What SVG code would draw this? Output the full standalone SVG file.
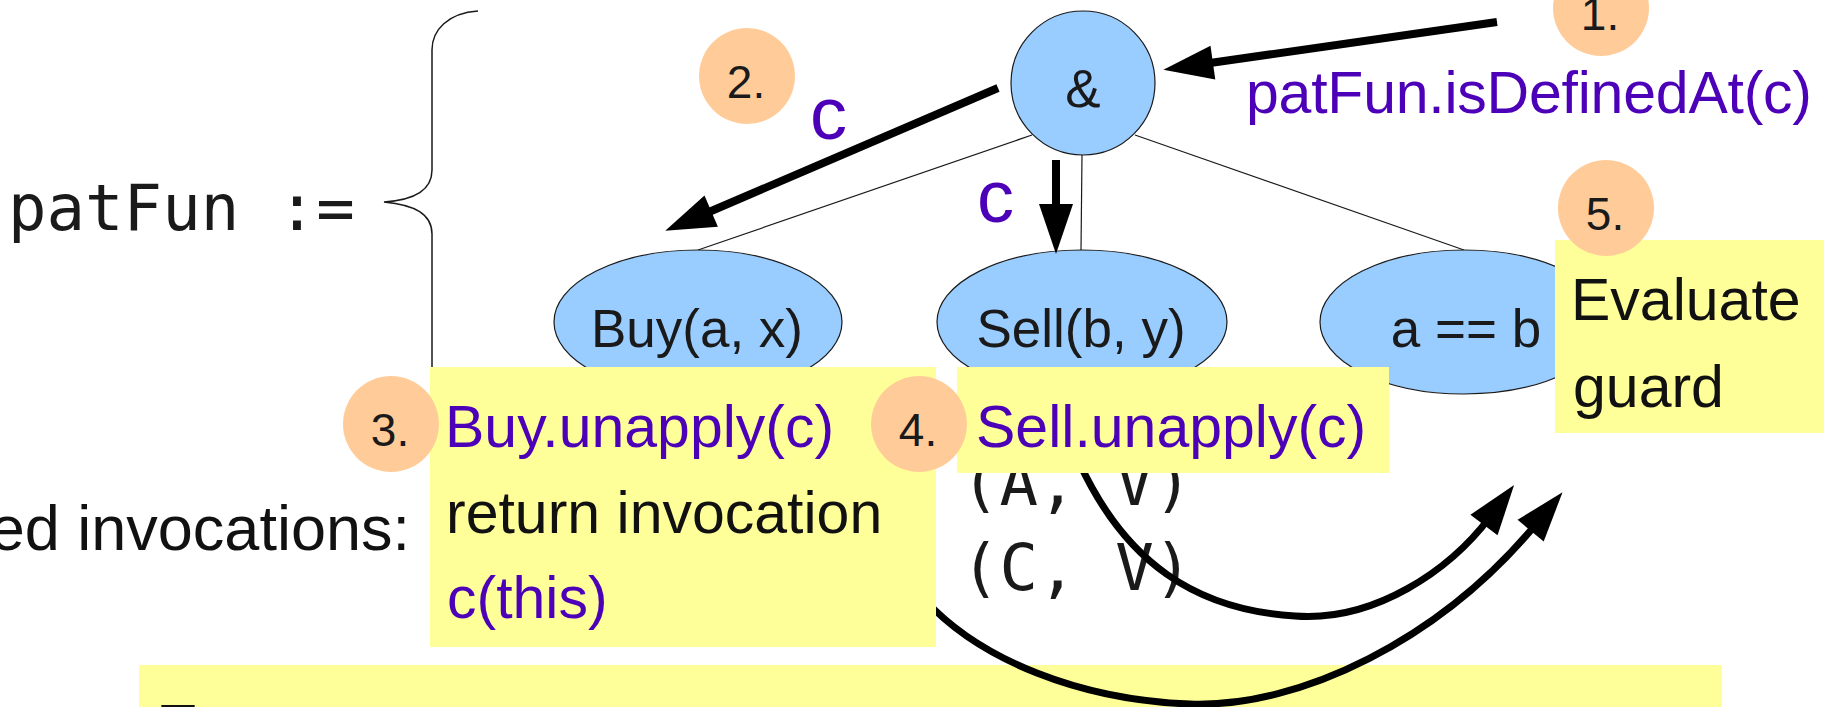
<svg xmlns="http://www.w3.org/2000/svg" width="1824" height="707" viewBox="0 0 1824 707">
<defs>
<marker id="ah" markerUnits="userSpaceOnUse" markerWidth="50" markerHeight="34" refX="10" refY="17" orient="auto" overflow="visible">
<path d="M0,0 L50,17 L0,34 z" fill="#000"/>
</marker>
</defs>
<style>
.node{fill:#99ccff;stroke:#1a1a1a;stroke-width:1.2}
.badge{fill:#ffcc99;stroke:none}
.note{fill:#ffff99;stroke:none}
.lbl{font-family:"Liberation Sans",Arial,sans-serif;font-size:53px;fill:#1a1a1a}
.num{font-family:"Liberation Sans",Arial,sans-serif;font-size:46px;fill:#1a1a1a;text-anchor:middle}
.txt{font-family:"Liberation Sans",Arial,sans-serif;font-size:59px;fill:#111}
.pur{fill:#4c00b8}
.mono{font-family:"DejaVu Sans Mono",monospace;font-size:64px;fill:#1a1a1a}
.cc{font-family:"Liberation Sans",Arial,sans-serif;font-size:74px;fill:#4c00b8}
.thin{stroke:#1a1a1a;stroke-width:1.2;fill:none}
.arr{stroke:#000;stroke-width:8;fill:none;marker-end:url(#ah)}
.curve{stroke:#000;stroke-width:7;fill:none;marker-end:url(#ah)}
</style>

<g id="definition">
<text class="mono" x="8" y="230">patFun :=</text>
<path d="M478,11 C448,13 432,30 432,50 L432,170 C432,190 415,200 384,202 C415,205 432,214 432,234 L432,370" fill="none" stroke="#1a1a1a" stroke-width="1.5"/>
</g>

<g id="tree-edges">
<line class="thin" x1="1032" y1="135" x2="698" y2="250"/>
<line class="thin" x1="1082" y1="154" x2="1081" y2="250"/>
<line class="thin" x1="1135" y1="135" x2="1464" y2="250"/>
</g>

<g id="node-and">
<ellipse class="node" cx="1083" cy="83" rx="72" ry="72"/>
<text class="lbl" x="1083" y="107" text-anchor="middle">&amp;</text>
</g>
<g id="node-buy">
<ellipse class="node" cx="698" cy="322" rx="144" ry="72"/>
<text class="lbl" x="697" y="347" text-anchor="middle">Buy(a, x)</text>
</g>
<g id="node-sell">
<ellipse class="node" cx="1082" cy="322" rx="145" ry="72"/>
<text class="lbl" x="1081" y="347" text-anchor="middle">Sell(b, y)</text>
</g>
<g id="node-guard">
<ellipse class="node" cx="1464" cy="322" rx="144" ry="72"/>
<text class="lbl" x="1466" y="347" text-anchor="middle">a == b</text>
</g>

<g id="invocations">
<text class="txt" x="410" y="550" text-anchor="end" style="font-size:63px">ed invocations:</text>
<text class="mono" x="961" y="505">(A, V)</text>
<text class="mono" x="961" y="590">(C, V)</text>
</g>

<g id="note-bottom">
<rect class="note" x="139" y="665" width="1583" height="50"/>
<text class="txt" x="160" y="746">T</text>
</g>

<g id="connectors">
<line class="arr" x1="1497" y1="22" x2="1203" y2="64"/>
<line class="arr" x1="998" y1="88" x2="702" y2="215"/>
<line class="arr" x1="1056" y1="160" x2="1056" y2="214"/>
<path class="curve" d="M1079,462 C1125,562 1195,610 1295,616 C1375,622 1450,570 1490,517"/>
<path class="curve" d="M925,600 C980,660 1080,700 1190,704 C1300,708 1440,640 1537,523"/>
<text class="cc" x="810" y="139">c</text>
<text class="cc" x="977" y="222">c</text>
<text class="txt pur" x="1246" y="113" textLength="566">patFun.isDefinedAt(c)</text>
</g>

<g id="note-buy">
<rect class="note" x="430" y="367" width="506" height="280"/>
<text class="txt pur" x="445" y="447">Buy.unapply(c)</text>
<text class="txt" x="446" y="533">return invocation</text>
<text class="txt pur" x="447" y="618">c(this)</text>
</g>
<g id="note-sell">
<rect class="note" x="957" y="367" width="432" height="106"/>
<text class="txt pur" x="976" y="447">Sell.unapply(c)</text>
</g>
<g id="note-guard">
<rect class="note" x="1555" y="240" width="280" height="193"/>
<text class="txt" x="1571" y="320">Evaluate</text>
<text class="txt" x="1573" y="407">guard</text>
</g>

<g id="badge-1">
<circle class="badge" cx="1601" cy="8" r="48"/>
<text class="num" x="1600" y="30">1.</text>
</g>
<g id="badge-2">
<circle class="badge" cx="747" cy="76" r="48"/>
<text class="num" x="746" y="98">2.</text>
</g>
<g id="badge-3">
<circle class="badge" cx="391" cy="424" r="48"/>
<text class="num" x="390" y="446">3.</text>
</g>
<g id="badge-4">
<circle class="badge" cx="919" cy="424" r="48"/>
<text class="num" x="918" y="446">4.</text>
</g>
<g id="badge-5">
<circle class="badge" cx="1606" cy="208" r="48"/>
<text class="num" x="1605" y="230">5.</text>
</g>
</svg>
